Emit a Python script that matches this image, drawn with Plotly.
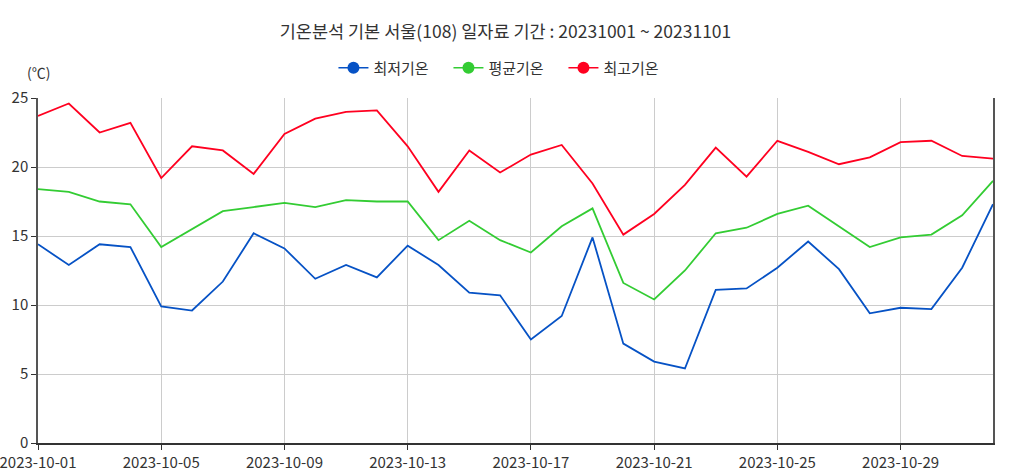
import pandas as pd
import plotly.graph_objects as go

dates = pd.date_range("2023-10-01", "2023-11-01", freq="D")

min_temp = [14.4, 12.9, 14.4, 14.2, 9.9, 9.6, 11.7, 15.2, 14.1, 11.9, 12.9, 12.0, 14.3, 12.9, 10.9, 10.7,
            7.5, 9.2, 14.9, 7.2, 5.9, 5.4, 11.1, 11.2, 12.7, 14.6, 12.6, 9.4, 9.8, 9.7, 12.7, 17.3]
avg_temp = [18.4, 18.2, 17.5, 17.3, 14.2, 15.5, 16.8, 17.1, 17.4, 17.1, 17.6, 17.5, 17.5, 14.7, 16.1, 14.7,
            13.8, 15.7, 17.0, 11.6, 10.4, 12.5, 15.2, 15.6, 16.6, 17.2, 15.7, 14.2, 14.9, 15.1, 16.5, 19.0]
max_temp = [23.7, 24.6, 22.5, 23.2, 19.2, 21.5, 21.2, 19.5, 22.4, 23.5, 24.0, 24.1, 21.5, 18.2, 21.2, 19.6,
            20.9, 21.6, 18.8, 15.1, 16.6, 18.7, 21.4, 19.3, 21.9, 21.1, 20.2, 20.7, 21.8, 21.9, 20.8, 20.6]

series = [
    ("최저기온", min_temp, "#0652c5"),
    ("평균기온", avg_temp, "#33cc33"),
    ("최고기온", max_temp, "#ff0020"),
]

FONT = "Noto Sans CJK KR"

fig = go.Figure()
for name, vals, color in series:
    fig.add_trace(go.Scatter(x=dates, y=vals, name=name, mode="lines",
                             line=dict(color=color, width=1.8), showlegend=False))
    # legend-only entry so the key shows a line with a dot
    fig.add_trace(go.Scatter(x=[None], y=[None], name=name, mode="lines+markers",
                             line=dict(color=color, width=1.6),
                             marker=dict(color=color, size=12)))

fig.update_layout(
    width=1011, height=472,
    margin=dict(l=38, r=18, t=98, b=29),
    paper_bgcolor="white", plot_bgcolor="white",
    font=dict(family=FONT, size=15, color="#333"),
    title=dict(text="기온분석 기본 서울(108) 일자료 기간 : 20231001 ~ 20231101",
               x=0.5, xanchor="center", y=0.932, yanchor="middle",
               font=dict(size=17.5, color="#333")),
    legend=dict(orientation="h", x=0.49, xanchor="center", y=1.087, yanchor="middle",
                font=dict(size=15, color="#333"), itemwidth=30,
                entrywidth=70, entrywidthmode="pixels"),
    showlegend=True,
)

fig.update_xaxes(
    range=[dates[0], dates[-1]], tickformat="%Y-%m-%d", dtick=4 * 86400000,
    tick0=dates[0], showgrid=True, gridcolor="#cccccc", gridwidth=1,
    showline=True, linecolor="#333", linewidth=1.5, automargin=False,
    ticklabeloverflow="allow",
    ticks="outside", ticklen=5, tickcolor="#333", tickfont=dict(size=15, color="#333"),
    zeroline=False,
)
fig.update_yaxes(
    range=[0, 25], dtick=5, showgrid=True, gridcolor="#cccccc", gridwidth=1,
    showline=True, linecolor="#555", linewidth=1.5, mirror=True, automargin=False,
    ticks="outside", ticklen=5, tickcolor="#333", tickfont=dict(size=15, color="#333"),
    zeroline=False,
)

fig.add_annotation(text="(℃)", xref="paper", yref="paper", x=0, y=1.075,
                   xanchor="center", yanchor="middle", showarrow=False,
                   font=dict(size=14, color="#333"))

# drop the default page margin so the figure fills the window
fig.write_html("out.html", config={"displayModeBar": False},
               post_script="document.body.style.margin='0';")
